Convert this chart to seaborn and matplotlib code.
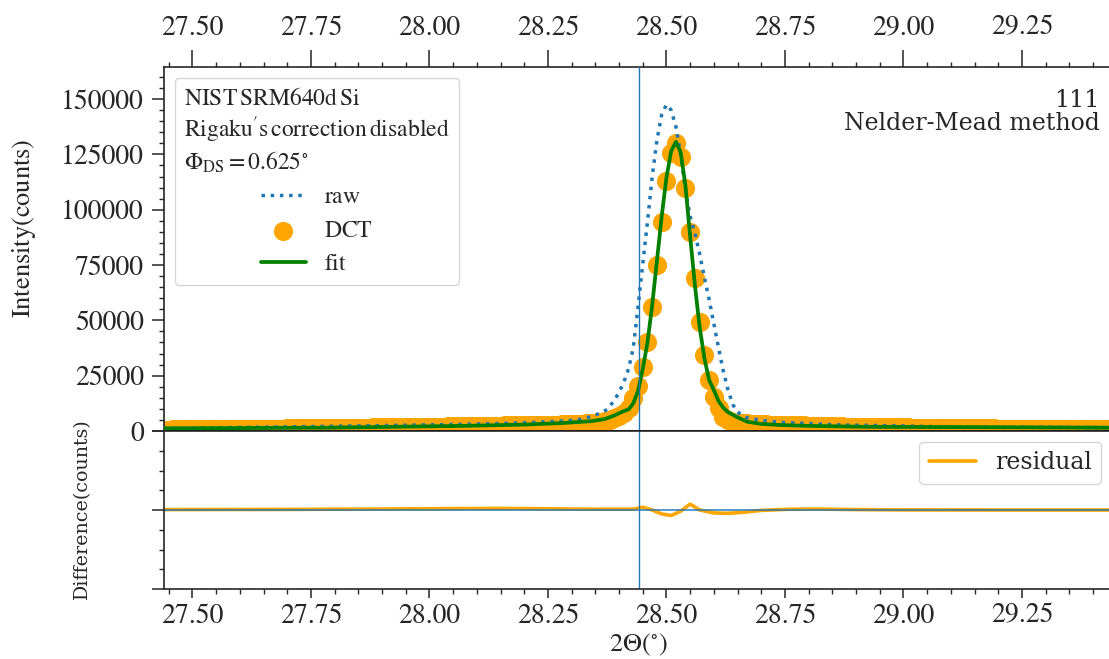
import numpy as np
import pandas as pd
import matplotlib
matplotlib.use("Agg")
import matplotlib.pyplot as plt
from matplotlib.ticker import MultipleLocator
import seaborn as sns

# Si 111 peak (counts in thousands)
peak_pos = 28.442

# DCT points on the 0.01 deg scan grid, 27.44 .. 29.43
dct_2theta = np.round(27.44 + 0.01 * np.arange(200), 2)
dct_k = [
    0.6, 0.6, 0.7, 0.7, 0.7, 0.7,
    0.8, 0.8, 0.8, 0.8, 0.8, 0.9, 0.9, 0.9, 0.9, 0.9,
    1.0, 1.0, 1.0, 1.0, 1.0, 1.1, 1.1, 1.1, 1.1, 1.1,
    1.2, 1.2, 1.2, 1.2, 1.2, 1.3, 1.3, 1.3, 1.3, 1.3,
    1.4, 1.4, 1.4, 1.4, 1.5, 1.5, 1.5, 1.5, 1.6, 1.6,
    1.6, 1.6, 1.7, 1.7, 1.7, 1.8, 1.8, 1.8, 1.9, 1.9,
    1.9, 2.0, 2.0, 2.0, 2.1, 2.1, 2.1, 2.2, 2.2, 2.2,
    2.3, 2.3, 2.3, 2.4, 2.4, 2.4, 2.5, 2.5, 2.5, 2.6,
    2.6, 2.6, 2.7, 2.7, 2.8, 2.8, 2.9, 2.9, 3.0, 3.0,
    3.1, 3.2, 3.3, 3.4, 3.6, 3.8, 4.1, 4.5, 5.0, 5.7,
    6.6, 8.0, 10.5, 14.8, 20.4, 28.8, 40.4, 56.2, 74.8, 94.6,
    112.8, 125.5, 130.0, 124.0, 109.8, 90.1, 69.0, 49.4, 34.3, 23.0,
    15.5, 10.3, 6.5, 4.9, 4.2, 3.8, 3.6, 3.4, 3.3, 3.2,
    3.1, 3.0, 2.9, 2.8, 2.8, 2.7, 2.6, 2.6, 2.5, 2.5,
    2.4, 2.4, 2.3, 2.3, 2.2, 2.2, 2.1, 2.1, 2.0, 2.0,
    1.9, 1.9, 1.9, 1.8, 1.8, 1.8, 1.7, 1.7, 1.7, 1.6,
    1.6, 1.6, 1.5, 1.5, 1.5, 1.5, 1.4, 1.4, 1.4, 1.4,
    1.3, 1.3, 1.3, 1.3, 1.3, 1.2, 1.2, 1.2, 1.2, 1.2,
    1.1, 1.1, 1.1, 1.1, 1.1, 1.1, 1.0, 1.0, 1.0, 1.0,
    1.0, 1.0, 0.9, 0.9, 0.9, 0.9, 0.9, 0.9, 0.8, 0.8,
    0.8, 0.8, 0.8, 0.8,
]

# raw profile
raw_2theta = [27.44, 27.64, 27.85, 28.07, 28.20, 28.29, 28.32, 28.34, 28.36, 28.375,
              28.39, 28.40, 28.41, 28.42, 28.43, 28.44, 28.45, 28.46, 28.47, 28.48,
              28.49, 28.50, 28.51, 28.52, 28.53, 28.54, 28.55, 28.56, 28.57, 28.58,
              28.59, 28.60, 28.61, 28.62, 28.63, 28.64, 28.65, 28.67, 28.70, 28.74,
              28.81, 28.87, 29.00, 29.10, 29.30, 29.44]
raw_k = [1.2, 1.7, 2.3, 3.0, 3.7, 4.6, 5.3, 6.5, 8.0, 9.7,
         13.8, 17.5, 22.0, 28.0, 37.5, 56.0, 75.5, 94.5, 115.0, 131.5,
         143.0, 147.5, 145.0, 137.5, 125.0, 109.0, 97.0, 89.5, 80.0, 69.5,
         59.5, 48.5, 37.5, 27.0, 18.5, 12.0, 8.5, 6.0, 4.8, 3.9,
         3.3, 2.7, 2.3, 1.8, 1.7, 1.5]

# fitted profile
fit_2theta = [27.44, 27.78, 28.07, 28.20, 28.28, 28.34, 28.37, 28.39, 28.41, 28.42,
              28.43, 28.44, 28.45, 28.46, 28.47, 28.48, 28.49, 28.50, 28.51, 28.52,
              28.53, 28.54, 28.55, 28.56, 28.57, 28.58, 28.59, 28.60, 28.61, 28.62,
              28.63, 28.65, 28.67, 28.70, 28.74, 28.80, 28.92, 29.20, 29.44]
fit_k = [1.2, 1.5, 2.3, 2.9, 3.6, 4.4, 5.4, 7.0, 9.0, 9.7,
         12.5, 18.0, 28.0, 40.0, 57.0, 77.0, 97.0, 114.5, 126.5, 130.7,
         126.0, 111.0, 88.0, 66.0, 47.0, 33.0, 23.0, 18.5, 13.5, 10.5,
         8.5, 6.2, 4.2, 3.2, 2.7, 2.3, 1.9, 1.7, 1.5]

# residual (counts)
res_2theta = [27.44, 27.70, 27.90, 28.05, 28.15, 28.25, 28.35, 28.43, 28.45, 28.47,
              28.49, 28.51, 28.53, 28.55, 28.57, 28.60, 28.63, 28.66, 28.70, 28.76,
              28.82, 28.90, 29.00, 29.20, 29.44]
res_counts = [200, 300, 500, 700, 800, 600, 400, 400, 1400, 0,
              -2000, -2800, -600, 3000, 0, -1500, -1700, -1200, -200, 400,
              500, 200, 50, 0, 0]

dct = pd.DataFrame({"x": dct_2theta, "y": np.array(dct_k) * 1000})
raw = pd.DataFrame({"x": raw_2theta, "y": np.array(raw_k) * 1000})
fit = pd.DataFrame({"x": fit_2theta, "y": np.array(fit_k) * 1000})
res = pd.DataFrame({"x": res_2theta, "y": res_counts})

sns.set_style("ticks")
plt.rcParams["font.family"] = ["DejaVu Serif"]
plt.rcParams["mathtext.fontset"] = "stix"

W, H = 1109, 659
fig = plt.figure(figsize=(W / 100, H / 100), dpi=100)
ax1 = fig.add_axes([164 / W, 1 - 431 / H, (1112 - 164) / W, (431 - 67) / H])
ax2 = fig.add_axes([164 / W, 1 - 589 / H, (1112 - 164) / W, (589 - 431) / H])

TICK = 20

# top panel
sns.scatterplot(data=dct, x="x", y="y", ax=ax1, color="orange", s=190,
                linewidth=0, label="DCT", zorder=2)
sns.lineplot(data=raw, x="x", y="y", ax=ax1, color="C0", lw=2.5,
             linestyle=":", label="raw", estimator=None, sort=False, zorder=3)
sns.lineplot(data=fit, x="x", y="y", ax=ax1, color="green", lw=2.7,
             label="fit", estimator=None, sort=False, zorder=4)
ax1.axvline(peak_pos, color="C0", lw=1, zorder=5)
ax1.axhline(0, color="black", lw=2.2, zorder=6)

ax1.set_xlim(27.44, 29.44)
ax1.set_ylim(0, 164500)
ax1.xaxis.tick_top()
ax1.xaxis.set_label_position("top")
ax1.set_xlabel("")
ax1.set_ylabel("$\\mathrm{Intensity(counts)}$", fontsize=19)
ax1.yaxis.set_label_coords(-0.133, 0.556)
ax1.xaxis.set_major_locator(MultipleLocator(0.25))
ax1.xaxis.set_minor_locator(MultipleLocator(0.05))
ax1.yaxis.set_major_locator(MultipleLocator(25000))
ax1.yaxis.set_minor_locator(MultipleLocator(5000))
ax1.xaxis.set_major_formatter(plt.FormatStrFormatter("%.2f"))
ax1.tick_params(axis="x", which="major", length=12, width=1.1, pad=7,
                labelsize=TICK, labelfontfamily="STIXGeneral")
ax1.tick_params(axis="x", which="minor", length=3.5, width=1.0)
ax1.tick_params(axis="y", which="major", length=8.5, width=1.1, pad=6,
                labelsize=TICK, labelfontfamily="STIXGeneral")
ax1.tick_params(axis="y", which="minor", length=3.5, width=1.0)
for s in ax1.spines.values():
    s.set_linewidth(1.2)

handles, labels = ax1.get_legend_handles_labels()
order = [labels.index(n) for n in ["raw", "DCT", "fit"]]
title = ("$\\mathrm{NIST\\,SRM640d\\,Si}$\n"
         "$\\mathrm{Rigaku^{\\prime}s\\,correction\\,disabled}$\n"
         "$\\Phi_{\\mathrm{DS}}=0.625^{\\circ}$")
leg = ax1.legend([handles[i] for i in order],
                 ["$\\mathrm{raw}$", "$\\mathrm{DCT}$", "$\\mathrm{fit}$"],
                 loc="upper left", title=title, fontsize=17, title_fontsize=17,
                 handlelength=1.9, labelspacing=0.45, borderaxespad=0.45)
leg.get_title().set_multialignment("left")

ax1.text(0.987, 0.94, "111\nNelder-Mead method", transform=ax1.transAxes,
         ha="right", va="top", multialignment="right", fontsize=17,
         family="DejaVu Serif", linespacing=1.0)

# residual panel
sns.lineplot(data=res, x="x", y="y", ax=ax2, color="orange", lw=2.6,
             label="residual", estimator=None, sort=False)
ax2.axhline(0, color="C0", lw=1.4, alpha=0.75)
ax2.axvline(peak_pos, color="C0", lw=1)
ax2.set_xlim(27.44, 29.44)
ax2.set_ylim(-40000, 40000)
ax2.yaxis.set_major_locator(MultipleLocator(40000))
ax2.yaxis.set_minor_locator(MultipleLocator(10000))
ax2.set_yticklabels([])
ax2.xaxis.set_major_locator(MultipleLocator(0.25))
ax2.xaxis.set_minor_locator(MultipleLocator(0.05))
ax2.xaxis.set_major_formatter(plt.FormatStrFormatter("%.2f"))
ax2.tick_params(axis="x", which="major", length=6.5, width=1.1, pad=4,
                labelsize=TICK, labelfontfamily="STIXGeneral")
ax2.tick_params(axis="x", which="minor", length=3.5, width=1.0)
ax2.tick_params(axis="y", which="major", length=8.5, width=1.1)
ax2.tick_params(axis="y", which="minor", length=3.5, width=1.0)
for s in ax2.spines.values():
    s.set_linewidth(1.2)
ax2.set_xlabel("$2\\Theta(^{\\circ})$", fontsize=19, labelpad=2)
ax2.set_ylabel("Difference(counts)", fontsize=13.7, family="DejaVu Serif")
ax2.yaxis.set_label_coords(-0.077, 0.5)
ax2.legend(loc="upper right", fontsize=17, handlelength=2.0, borderaxespad=0.45)

fig.savefig("out.png", dpi=100)
